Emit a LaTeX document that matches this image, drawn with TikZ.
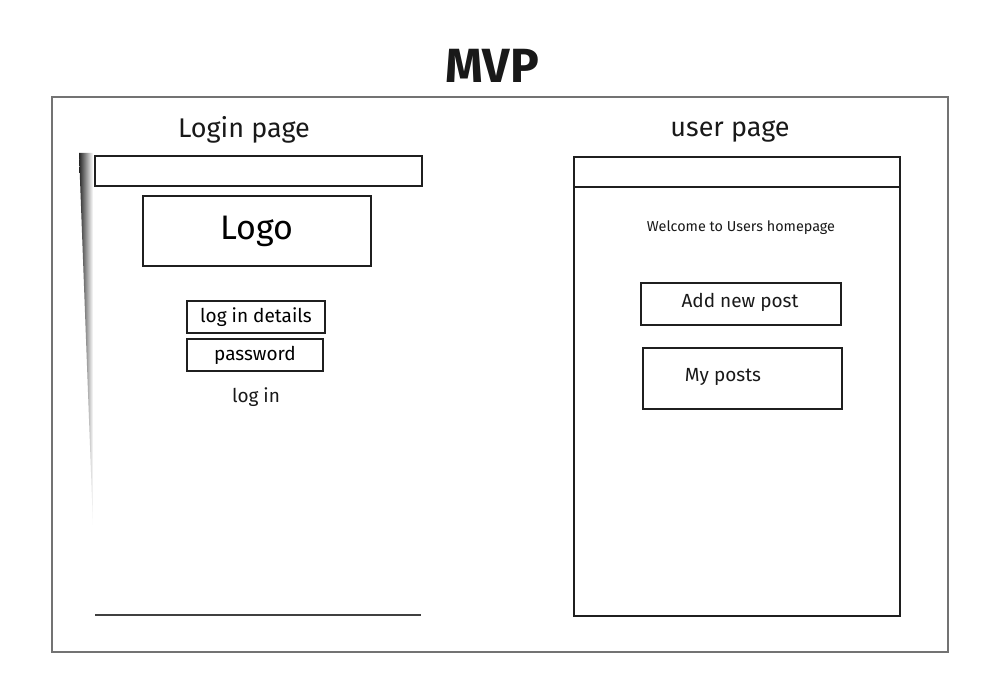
\documentclass[tikz,border=0pt]{standalone}
\usepackage{fontspec}
\setmainfont{Fira Sans}
\begin{document}
\begin{tikzpicture}[x=1pt,y=-1pt,
  frame/.style={draw=black!55, line width=1.3pt},
  box/.style={draw=black!88, line width=1.5pt, rectangle, inner sep=0pt},
  txt/.style={inner sep=0pt, text=black!90},
  fsz/.style={font=\fontsize{#1}{#1}\selectfont}]
\useasboundingbox (0,0) rectangle (998,700);

% title and outer frame
\node[txt, font=\fontsize{48}{48}\selectfont\bfseries] (title) at (492,66) {MVP};
\draw[frame] (52,97) rectangle (948,652);

% ---- login page ----
\node[txt, fsz=27] (logintitle) at (244,130) {Login page};
\shade[left color=black!85, right color=white] (79,153) -- (93,153) -- (93,525) -- cycle;
\node[box, minimum width=327pt, minimum height=30pt] (loginbar) at (258.5,171) {};
\node[box, minimum width=228pt, minimum height=70pt, fsz=34] (logo) at (257,231) {Logo};
\node[box, minimum width=138pt, minimum height=32pt, fsz=19] (details) at (256,317) {log in details};
\node[box, minimum width=136pt, minimum height=32pt, fsz=19] (password) at (255,355) {password};
\node[txt, fsz=19] (loginbtn) at (256,397) {log in};
\coordinate (lb1) at (95,615);
\coordinate (lb2) at (421,615);
\draw[draw=black!75, line width=1.3pt] (lb1) -- (lb2);

% ---- user page ----
\node[txt, fsz=27] (usertitle) at (730,131) {user page};
\node[box, line width=1.7pt, minimum width=326pt, minimum height=459pt, anchor=north west] (userpage) at (573,156) {};
\coordinate (ub1) at (573,187);
\coordinate (ub2) at (899,187);
\draw[box] (ub1) -- (ub2);
\node[txt, fsz=14.4] (welcome) at (741,228) {Welcome to Users homepage};
\node[box, minimum width=200pt, minimum height=42pt] (addpost) at (741,304) {};
\node[txt, fsz=19] (addposttxt) at (740,302) {Add new post};
\node[box, minimum width=199pt, minimum height=61pt] (myposts) at (742.5,378.5) {};
\node[txt, fsz=19] (mypoststxt) at (723,377) {My posts};
\end{tikzpicture}
\end{document}
